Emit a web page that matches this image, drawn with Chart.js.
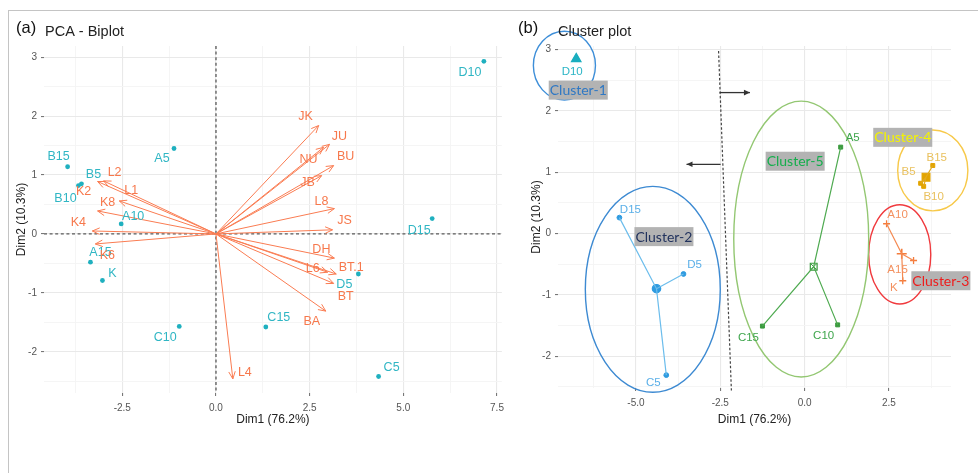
<!DOCTYPE html>
<html><head><meta charset="utf-8">
<script src="https://cdn.jsdelivr.net/npm/chart.js@4.4.1/dist/chart.umd.min.js"></script>
<style>
html,body{margin:0;padding:0;background:#fff;}
#wrap{position:relative;width:978px;height:473px;overflow:hidden;background:#fff;}
#frame{position:absolute;left:8px;top:10px;width:990px;height:490px;border-top:1px solid #c4c4c4;border-left:1px solid #c4c4c4;}
canvas{position:absolute;top:0;}
#cA{left:0}
#cB{left:510px}
</style></head><body>
<div id="wrap"><div id="frame"></div>
<canvas id="cA" width="510" height="473"></canvas>
<canvas id="cB" width="468" height="473"></canvas></div>
<script>
// ---------- (a) PCA biplot: individuals ----------
const sampleNames = ['D10','A5','B15','B5','B10','A10','A15','K','C10','C15','C5','D5','D15'];
const sampleDim1  = [7.15,-1.12,-3.96,-3.59,-3.67,-2.53,-3.35,-3.03,-0.98,1.33,4.34,3.80,5.77];
const sampleDim2  = [2.93,1.45,1.14,0.85,0.82,0.17,-0.48,-0.79,-1.57,-1.58,-2.42,-0.68,0.26];

// ---------- (a) PCA biplot: variable loadings (arrow tips) ----------
const variableNames = ['JK','JU','NU','BU','JB','L8','JS','DH','L6','BT.1','BT','BA','L4','L2','K2','L1','K8','K4','K6'];
const loadDim1 = [2.74,3.03,2.87,3.14,2.82,3.16,3.11,3.16,2.98,3.21,3.14,2.93,0.45,-3.16,-3.00,-2.58,-3.16,-3.30,-3.22];
const loadDim2 = [1.84,1.52,1.47,1.16,0.99,0.43,0.07,-0.41,-0.65,-0.68,-0.84,-1.31,-2.46,0.89,0.90,0.56,0.39,0.05,-0.17];

// ---------- axis ticks ----------
const aMajorX = [-2.5,0,2.5,5,7.5], aMinorX = [-3.75,-1.25,1.25,3.75,6.25];
const aMajorY = [-2,-1,0,1,2,3],    aMinorY = [-2.5,-1.5,-0.5,0.5,1.5,2.5];
const bMajorX = [-5,-2.5,0,2.5],    bMinorX = [-6.25,-3.75,-1.25,1.25,3.75];
const bMajorY = [-2,-1,0,1,2,3],    bMinorY = [-2.5,-1.5,-0.5,0.5,1.5,2.5];

// ---------- (b) cluster plot ----------
const clusterNames = ['Cluster-1','Cluster-2','Cluster-3','Cluster-4','Cluster-5'];
const c1Names = ['D10'],            c1X = [-6.77],              c1Y = [2.85];
const c2Names = ['D15','D5','C5'],  c2X = [-5.49,-3.59,-4.10],  c2Y = [0.26,-0.66,-2.31];
const c3Names = ['A10','A15','K'],  c3X = [2.43,3.23,2.91],     c3Y = [0.16,-0.44,-0.77];
const c4Names = ['B15','B5','B10'], c4X = [3.80,3.44,3.53],     c4Y = [1.11,0.82,0.77];
const c5Names = ['A5','C15','C10'], c5X = [1.07,-1.25,0.98],    c5Y = [1.41,-1.51,-1.49];
const centerX = [-6.77,-4.39,2.88,3.60,0.27];
const centerY = [2.85,-0.90,-0.33,0.92,-0.54];
// concentration ellipses (centre and semi-axes, in Dim units)
const ellipseX  = [-7.12,-4.50,2.82,3.80,-0.10];
const ellipseY  = [2.74,-0.91,-0.34,1.03,-0.09];
const ellipseRX = [0.92,2.00,0.92,1.04,2.00];
const ellipseRY = [0.56,1.68,0.81,0.66,2.25];
// separating line and direction arrows
const splitX = [-2.55,-2.17], splitY = [2.98,-2.56];
const moveFromX = [-2.52,-2.49], moveToX = [-1.62,-3.50], moveY = [2.30,1.13];

// ---------- presentation ----------
const FONT = "'Liberation Sans', Arial, sans-serif";
const TEAL = '#1fb0bf', TEAL_TXT = '#30b6c4';
const ORANGE = '#fa7c52', ORANGE_TXT = '#f7784c';
const sampleLabelOffset = {D10:[-14,11],A5:[-12,10],B15:[-9,-10],B5:[12,-9],B10:[-13,13],A10:[12,-7],A15:[10,-10],K:[10,-7],
  C10:[-14,11],C15:[13,-9],C5:[13,-9],D5:[-14,11],D15:[-13,12]};
const varLabelOffset = {JK:[-13,-9],JU:[10,-8],NU:[-15,12],BU:[12,-9],JB:[-14,7],L8:[-13,-7],JS:[12,-9],DH:[-13,-9],L6:[-15,-4],
  'BT.1':[15,-6],BT:[12,13],BA:[-14,10],L4:[12,-6],L2:[17,-9],K2:[-20,11],L1:[12,-10],K8:[10,-8],K4:[-14,-8],K6:[12,12]};
const clusterStyle = [
  {color:'#1aaebf', line:'#1aaebf', label:'#2bb5c6', ellipse:'#3d8ed8', shape:'triangle', r:4, cr:5.5},
  {color:'#2f9be0', line:'#6cbdec', label:'#5aafe8', ellipse:'#3d8ad2', shape:'circle',   r:2.4, cr:4.2},
  {color:'#f47c3c', line:'#f48a52', label:'#f39160', ellipse:'#f03a3e', shape:'cross',    r:3.5, cr:5},
  {color:'#e2a400', line:'#e2aa20', label:'#e9c15e', ellipse:'#f7c94a', shape:'rect',     r:2.8, cr:5.5},
  {color:'#3a9a3e', line:'#4eaa50', label:'#3ea54c', ellipse:'#93c772', shape:'rect',     r:2.8, cr:4.8}
];
const clusterLabelPos = [[-6.71,2.34],[-4.17,-0.05],[4.04,-0.77],[2.91,1.57],[-0.28,1.18]];
const clusterLabelColor = ['#2f78c4','#22335e','#ee1c1c','#f4f400','#14ae4c'];
const b_labelOffset = {D10:[-4,13],D15:[11,-8],D5:[11,-9],C5:[-13,8],A5:[12,-9],C15:[-14,12],C10:[-14,11],
  B15:[4,-8],B5:[-12,-11],B10:[10,10],A10:[11,-9],A15:[-16,9],K:[-9,7]};

function axis(pos, majors, minors, min, max, fmt, size, pad){
  const isMajor = v => majors.some(m => Math.abs(m - v) < 1e-9);
  return {
    type:'linear', position:pos, min, max,
    afterBuildTicks: s => { s.ticks = majors.concat(minors).sort((a,b)=>a-b).map(v=>({value:v})); },
    afterFit: s => { if (pos === 'left') s.width = size; else s.height = size; },
    ticks:{ autoSkip:false, maxRotation:0, padding:pad, color:'#555', font:{family:FONT,size:10},
      callback: v => isMajor(v) ? fmt(v) : '' },
    grid:{ color: c => isMajor(c.tick.value) ? '#e9e9e9' : '#f4f4f4', lineWidth: c => isMajor(c.tick.value) ? 1.1 : 0.9,
      tickLength:3, tickColor: c => isMajor(c.tick.value) ? '#777' : 'rgba(0,0,0,0)' },
    border:{display:false}
  };
}
const fmt1 = v => v.toFixed(1), fmt0 = v => String(Math.round(v));

function text(ctx, s, x, y, color, size, align, weight){
  ctx.save(); ctx.fillStyle = color; ctx.font = (weight||'normal') + ' ' + size + 'px ' + FONT;
  ctx.textAlign = align || 'center'; ctx.textBaseline = 'middle'; ctx.fillText(s, x, y); ctx.restore();
}
function arrowHead(ctx, x0, y0, x1, y1, len, spread){
  const a = Math.atan2(y1 - y0, x1 - x0);
  ctx.beginPath();
  ctx.moveTo(x1 - len*Math.cos(a - spread), y1 - len*Math.sin(a - spread));
  ctx.lineTo(x1, y1);
  ctx.lineTo(x1 - len*Math.cos(a + spread), y1 - len*Math.sin(a + spread));
  ctx.stroke();
}
function axisTitles(ctx, area, xt, yt, yx){
  text(ctx, xt, (area.left+area.right)/2, 420, '#222', 12);
  ctx.save(); ctx.translate(yx, (area.top+area.bottom)/2); ctx.rotate(-Math.PI/2);
  text(ctx, yt, 0, 0, '#222', 12); ctx.restore();
}

// ---------- chart (a) ----------
const biplotPlugin = {
  id:'biplot',
  beforeDatasetsDraw(chart){
    const {ctx, chartArea:a, scales:{x, y}} = chart;
    ctx.save();
    ctx.strokeStyle = '#5a5a5a'; ctx.lineWidth = 1.3; ctx.setLineDash([3,2.6]);
    const x0 = x.getPixelForValue(0), y0 = y.getPixelForValue(0);
    ctx.beginPath(); ctx.moveTo(a.left, y0); ctx.lineTo(a.right, y0); ctx.moveTo(x0, a.top); ctx.lineTo(x0, a.bottom); ctx.stroke();
    ctx.setLineDash([]);
    ctx.strokeStyle = ORANGE; ctx.lineWidth = 1;
    variableNames.forEach((n, i) => {
      const x1 = x.getPixelForValue(loadDim1[i]), y1 = y.getPixelForValue(loadDim2[i]);
      ctx.beginPath(); ctx.moveTo(x0, y0); ctx.lineTo(x1, y1); ctx.stroke();
      arrowHead(ctx, x0, y0, x1, y1, 8, 0.42);
    });
    ctx.restore();
  },
  afterDatasetsDraw(chart){
    const {ctx, scales:{x, y}} = chart;
    sampleNames.forEach((n, i) => {
      const o = sampleLabelOffset[n];
      text(ctx, n, x.getPixelForValue(sampleDim1[i]) + o[0], y.getPixelForValue(sampleDim2[i]) + o[1], TEAL_TXT, 12.5);
    });
    variableNames.forEach((n, i) => {
      const o = varLabelOffset[n];
      text(ctx, n, x.getPixelForValue(loadDim1[i]) + o[0], y.getPixelForValue(loadDim2[i]) + o[1], ORANGE_TXT, 12.5);
    });
  },
  afterDraw(chart){
    const ctx = chart.ctx;
    text(ctx, '(a)', 16, 28, '#111', 16.5, 'left');
    text(ctx, 'PCA - Biplot', 45, 32, '#222', 14.5, 'left');
    axisTitles(ctx, chart.chartArea, 'Dim1 (76.2%)', 'Dim2 (10.3%)', 22);
  }
};

new Chart(document.getElementById('cA'), {
  type:'scatter',
  data:{ datasets:[{
    data: sampleNames.map((n, i) => ({x:sampleDim1[i], y:sampleDim2[i]})),
    backgroundColor: TEAL, borderColor: TEAL, pointRadius: 2.4, borderWidth: 0
  }]},
  options:{
    responsive:false, animation:false, devicePixelRatio:1,
    layout:{padding:{top:46, right:5, left:0, bottom:0}},
    plugins:{legend:{display:false}, tooltip:{enabled:false}},
    scales:{
      x: axis('bottom', aMajorX, aMinorX, -4.59, 7.63, fmt1, 80, 6),
      y: axis('left', aMajorY, aMinorY, -2.70, 3.19, fmt0, 44, 4)
    }
  },
  plugins:[biplotPlugin]
});

// ---------- chart (b) ----------
const members = [[c1Names,c1X,c1Y],[c2Names,c2X,c2Y],[c3Names,c3X,c3Y],[c4Names,c4X,c4Y],[c5Names,c5X,c5Y]];
const bDatasets = [];
members.forEach(([names, xs, ys], k) => {
  const st = clusterStyle[k], c = {x:centerX[k], y:centerY[k]};
  const star = [];
  names.forEach((n, i) => { if (i) star.push(c); star.push({x:xs[i], y:ys[i]}); });
  if (names.length > 1) bDatasets.push({type:'line', data:star, borderColor:st.line, borderWidth:1.2, pointRadius:0, showLine:true, fill:false});
  bDatasets.push({data: names.map((n, i) => ({x:xs[i], y:ys[i]})), pointStyle:st.shape, pointRadius:st.r,
    backgroundColor:st.color, borderColor:st.color, borderWidth: st.shape === 'cross' ? 1.3 : 1});
  const open = k === 4;
  bDatasets.push({data:[c], pointStyle:st.shape, pointRadius:st.cr,
    backgroundColor: open ? 'rgba(255,255,255,0)' : st.color, borderColor:st.color, borderWidth: st.shape === 'cross' ? 1.6 : 1.2});
  if (open) bDatasets.push({data:[c], pointStyle:'crossRot', pointRadius:st.cr - 1, borderColor:st.color, borderWidth:1});
});

const clusterPlugin = {
  id:'clusters',
  beforeDatasetsDraw(chart){
    const {ctx, scales:{x, y}} = chart;
    ctx.save();
    clusterNames.forEach((n, k) => {
      const cx = x.getPixelForValue(ellipseX[k]), cy = y.getPixelForValue(ellipseY[k]);
      const rx = Math.abs(x.getPixelForValue(ellipseX[k] + ellipseRX[k]) - cx);
      const ry = Math.abs(y.getPixelForValue(ellipseY[k] + ellipseRY[k]) - cy);
      ctx.strokeStyle = clusterStyle[k].ellipse; ctx.lineWidth = 1.4;
      ctx.beginPath(); ctx.ellipse(cx, cy, rx, ry, 0, 0, Math.PI*2); ctx.stroke();
    });
    // separating boundary
    ctx.strokeStyle = '#444'; ctx.lineWidth = 1.2; ctx.setLineDash([2.5,2]);
    ctx.beginPath();
    ctx.moveTo(x.getPixelForValue(splitX[0]), y.getPixelForValue(splitY[0]));
    ctx.lineTo(x.getPixelForValue(splitX[1]), y.getPixelForValue(splitY[1]));
    ctx.stroke(); ctx.setLineDash([]);
    ctx.strokeStyle = '#333'; ctx.fillStyle = '#333'; ctx.lineWidth = 1.3;
    moveY.forEach((v, i) => {
      const x0 = x.getPixelForValue(moveFromX[i]), x1 = x.getPixelForValue(moveToX[i]), yy = y.getPixelForValue(v);
      ctx.beginPath(); ctx.moveTo(x0, yy); ctx.lineTo(x1, yy); ctx.stroke();
      const d = Math.sign(x1 - x0);
      ctx.beginPath(); ctx.moveTo(x1, yy); ctx.lineTo(x1 - d*6, yy - 2.8); ctx.lineTo(x1 - d*6, yy + 2.8); ctx.closePath(); ctx.fill();
    });
    ctx.restore();
  },
  afterDatasetsDraw(chart){
    const {ctx, scales:{x, y}} = chart;
    members.forEach(([names, xs, ys], k) => {
      names.forEach((n, i) => {
        const o = b_labelOffset[n];
        text(ctx, n, x.getPixelForValue(xs[i]) + o[0], y.getPixelForValue(ys[i]) + o[1], clusterStyle[k].label, 11.5);
      });
    });
    ctx.save();
    ctx.font = "14px Lato, 'Open Sans', sans-serif";
    clusterNames.forEach((n, k) => {
      const px = x.getPixelForValue(clusterLabelPos[k][0]), py = y.getPixelForValue(clusterLabelPos[k][1]);
      const w = ctx.measureText(n).width + 2;
      ctx.fillStyle = '#b3b3b3'; ctx.fillRect(px - w/2, py - 9.5, w, 19);
      ctx.fillStyle = clusterLabelColor[k]; ctx.textAlign = 'center'; ctx.textBaseline = 'middle';
      ctx.fillText(n, px, py + 0.5);
    });
    ctx.restore();
  },
  afterDraw(chart){
    const ctx = chart.ctx;
    text(ctx, '(b)', 8, 28, '#111', 16.5, 'left');
    text(ctx, 'Cluster plot', 48, 32, '#222', 14.5, 'left');
    axisTitles(ctx, chart.chartArea, 'Dim1 (76.2%)', 'Dim2 (10.3%)', 27);
  }
};

new Chart(document.getElementById('cB'), {
  type:'scatter',
  data:{ datasets:bDatasets },
  options:{
    responsive:false, animation:false, devicePixelRatio:1,
    layout:{padding:{top:46, right:27, left:0, bottom:0}},
    plugins:{legend:{display:false}, tooltip:{enabled:false}},
    scales:{
      x: axis('bottom', bMajorX, bMinorX, -7.31, 4.34, fmt1, 85, 6),
      y: axis('left', bMajorY, bMinorY, -2.52, 3.06, fmt0, 48, 4)
    }
  },
  plugins:[clusterPlugin]
});
</script>
</body></html>
